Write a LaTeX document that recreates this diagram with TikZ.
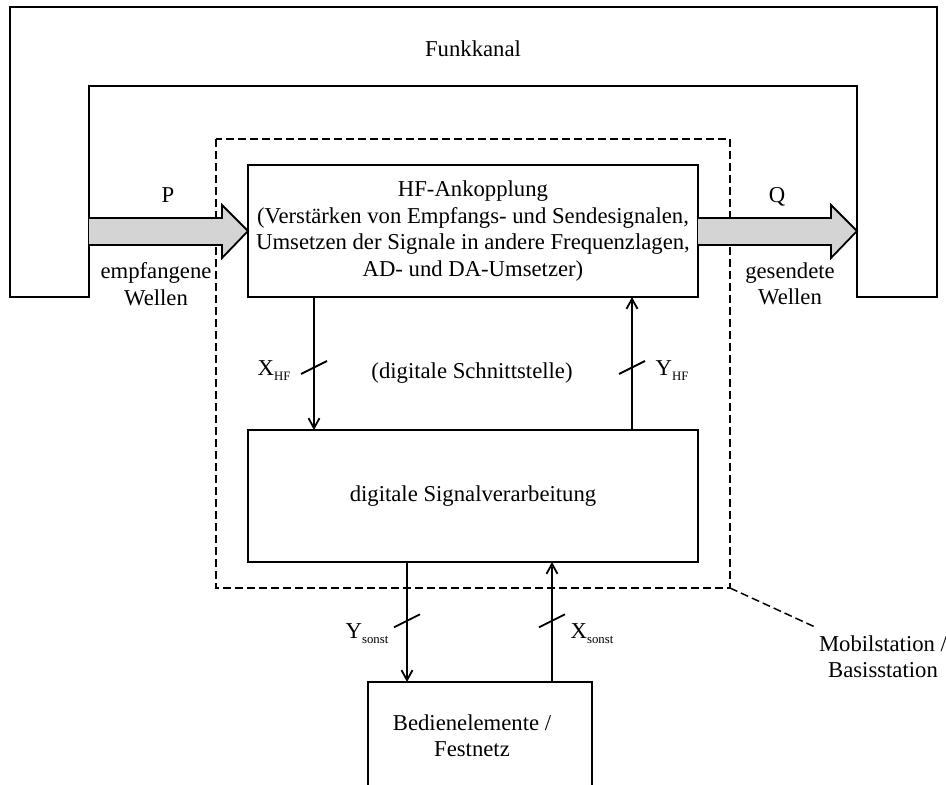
\documentclass[tikz,border=0pt]{standalone}
\usepackage{fontspec}
\setmainfont{Liberation Serif}
\usetikzlibrary{arrows.meta}

\newcommand{\sublabel}[2]{#1\raisebox{-5pt}{\fontsize{12.8}{12.8}\selectfont #2}}

\begin{document}
\begin{tikzpicture}[x=1pt,y=-1pt,
  font=\fontsize{22.7}{26.5}\selectfont,
  every node/.style={inner sep=0pt, outer sep=0pt},
  wire/.style={line width=1.8pt},
  blockbox/.style={draw, line width=1.9pt, minimum width=450pt, minimum height=132pt, align=center},
  sig/.style={wire, -{Straight Barb[length=10pt, width=11pt, line width=1.8pt]}},
  tick/.style={line width=1.8pt},
  wave/.style={draw, line width=1.8pt, fill=black!17, line join=miter},
  zone/.style={draw, line width=1.5pt, dash pattern=on 8pt off 4pt},
  lbl/.style={anchor=base}
]
\useasboundingbox (0,0) rectangle (946,785);

% radio channel drawn as a wide inverted U
\draw[line width=1.9pt] (10,297) -- (10,7) -- (937,7) -- (937,297) -- (857,297)
  -- (857,86) -- (89,86) -- (89,297) -- cycle;
\node[lbl] (funk) at (473,56) {Funkkanal};

% station boundary
\draw[zone] (216,139) rectangle (730,588);
\coordinate (zonecorner) at (730,588);

% main blocks
\node[blockbox] (hf) at (473,231) {HF-Ankopplung\\(Verstärken von Empfangs- und Sendesignalen,\\Umsetzen der Signale in andere Frequenzlagen,\\AD- und DA-Umsetzer)};
\node[blockbox] (dsp) at (473,496) {digitale Signalverarbeitung};

% operating elements / fixed network, open towards the bottom
\node[minimum width=224pt, minimum height=110pt] (bed) at (480,737) {};
\draw[line width=1.9pt] (bed.south west) -- (bed.north west) -- (bed.north east) -- (bed.south east);
\node[align=center] (bedtext) at (472,735.5) {Bedienelemente /\\Festnetz};

% incoming and outgoing waves
\draw[wave] (89,218) -- (222,218) -- (222,205) -- (hf.west) -- (222,258) -- (222,245) -- (89,245);
\draw[wave] (hf.east |- 0,218) -- (831,218) -- (831,205) -- (857,231) -- (831,258) -- (831,245) -- (hf.east |- 0,245);
\node[lbl] (p) at (168,202) {P};
\node[lbl] (q) at (777,202) {Q};
\node[align=center] (empf) at (156,284) {empfangene\\Wellen};
\node[align=center] (gesend) at (790,284) {gesendete\\Wellen};

% digital interface between HF part and signal processing
\draw[sig] ([xshift=-159pt]hf.south) -- ([xshift=-159pt]dsp.north) coordinate[pos=0.53] (xhf);
\draw[sig] ([xshift=159pt]dsp.north) -- ([xshift=159pt]hf.south) coordinate[pos=0.47] (yhf);
\draw[tick] ([shift={(-13,6.5)}]xhf) -- ([shift={(13,-6.5)}]xhf);
\draw[tick] ([shift={(-13,6.5)}]yhf) -- ([shift={(13,-6.5)}]yhf);
\node[lbl] (xhflbl) at (274,375) {\sublabel{X}{HF}};
\node[lbl] (yhflbl) at (672,375) {\sublabel{Y}{HF}};
\node[lbl] (schnitt) at (472,378) {(digitale Schnittstelle)};

% connection to operating elements
\draw[sig] ([xshift=-66pt]dsp.south) -- (bed.north -| 407,0) coordinate[pos=0.49] (ys);
\draw[sig] (bed.north -| 552,0) -- ([xshift=79pt]dsp.south) coordinate[pos=0.51] (xs);
\draw[tick] ([shift={(-13,6.5)}]ys) -- ([shift={(13,-6.5)}]ys);
\draw[tick] ([shift={(-13,6.5)}]xs) -- ([shift={(13,-6.5)}]xs);
\node[lbl] (yslbl) at (367,638) {\sublabel{Y}{sonst}};
\node[lbl] (xslbl) at (592,638) {\sublabel{X}{sonst}};

% station label with leader
\node[align=center] (station) at (883,656.5) {Mobilstation /\\Basisstation};
\draw[zone] (zonecorner) -- (815,627);
\end{tikzpicture}
\end{document}
